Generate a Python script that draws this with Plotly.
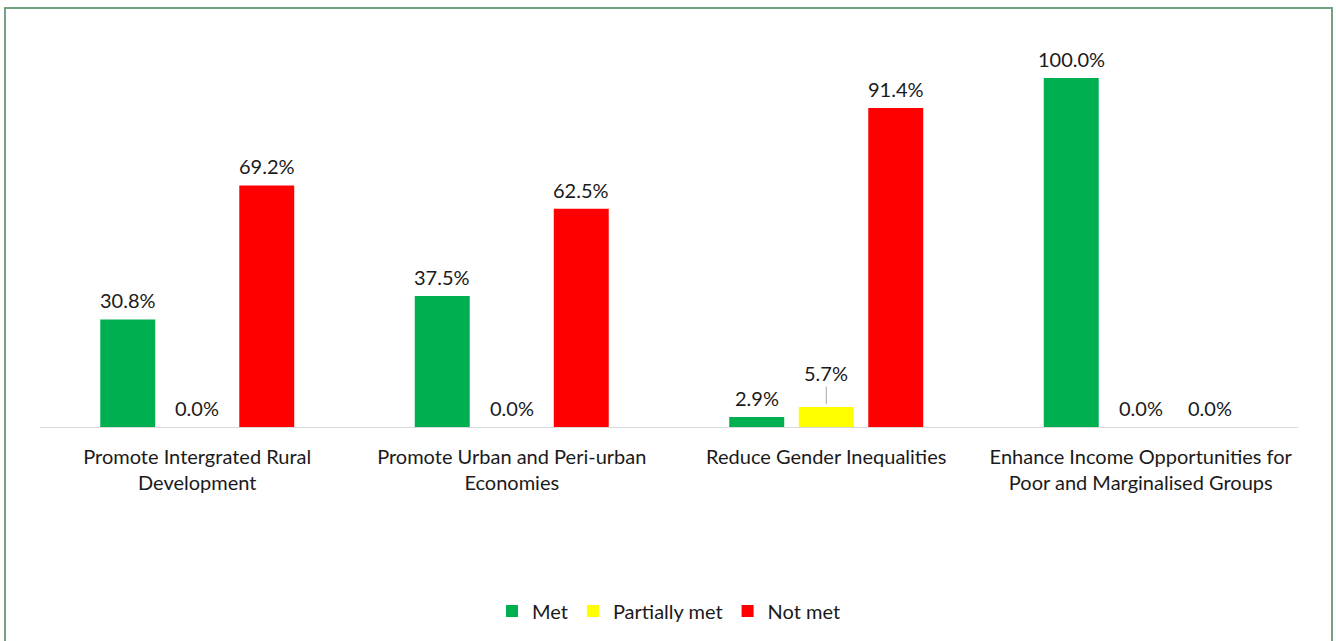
import plotly.graph_objects as go

categories = [
    "Promote Intergrated Rural<br>Development",
    "Promote Urban and Peri-urban<br>Economies",
    "Reduce Gender Inequalities",
    "Enhance Income Opportunities for<br>Poor and Marginalised Groups",
]
met = [30.8, 37.5, 2.9, 100.0]
partially_met = [0.0, 0.0, 5.7, 0.0]
not_met = [69.2, 62.5, 91.4, 0.0]

series_names = ["Met", "Partially met", "Not met"]
colors = ["#00B050", "#FFFF00", "#FF0000"]

FONT = "Lato, 'Open Sans', sans-serif"
FS = 20
TXT = "#1a1a1a"

# Label for partially met in the gender group is drawn as a callout
callout_idx = 2

W, H = 1336, 641
ml, mr, mt, mb = 40, 38, 40, 213
y_top = (H - mb - mt) / 3.5  # 3.5 px per percent
BARGAP, GROUPGAP = 0.337, 0.209

pw = W - ml - mr
ph = H - mt - mb
slot_px = pw / len(categories) * (1 - BARGAP) / len(series_names)

fig = go.Figure()
all_vals = [met, partially_met, not_met]
for si, (name, vals, col) in enumerate(zip(series_names, all_vals, colors)):
    fig.add_trace(go.Bar(
        name=name, x=categories, y=vals, marker=dict(color=col, line=dict(width=0)),
        hoverinfo="skip",
    ))
    for ci, v in enumerate(vals):
        label = f"{v:.1f}%"
        if name == "Partially met" and ci == callout_idx:
            fig.add_annotation(
                x=categories[ci], y=v, xref="x", yref="y",
                text=label, showarrow=True, arrowhead=0,
                arrowwidth=1, arrowcolor="#A6A6A6", ax=0, ay=-34, standoff=3,
                font=dict(family=FONT, size=FS, color=TXT),
            )
            continue
        fig.add_annotation(
            x=categories[ci], y=v, xref="x", yref="y", text=label, showarrow=False,
            xshift=(si - 1) * slot_px, yshift=5, yanchor="bottom",
            font=dict(family=FONT, size=FS, color=TXT),
        )

def px_x(p):
    return (p - ml) / pw
def px_y(p):
    return (H - mb - p) / ph

fig.add_shape(type="rect", xref="paper", yref="paper",
              x0=px_x(5), x1=px_x(1332), y0=px_y(660), y1=px_y(8),
              line=dict(color="#74A27E", width=2), fillcolor="rgba(0,0,0,0)", layer="below")

fig.update_layout(
    width=W, height=H,
    margin=dict(l=ml, r=mr, t=mt, b=mb),
    paper_bgcolor="white", plot_bgcolor="white",
    barmode="group", bargap=BARGAP, bargroupgap=GROUPGAP,
    showlegend=True,
    legend=dict(orientation="h", x=0.5, xanchor="center", y=px_y(611), yanchor="middle",
                font=dict(family=FONT, size=FS, color=TXT), itemsizing="constant"),
    xaxis=dict(showline=True, linecolor="#D9D9D9", linewidth=1, ticks="",
               tickfont=dict(family=FONT, size=FS, color=TXT), showgrid=False,
               ticklabelstandoff=12),
    yaxis=dict(range=[0, y_top], visible=False, showgrid=False, zeroline=False),
    font=dict(family=FONT, size=FS, color=TXT),
)

fig.write_html("out.html", config={"displayModeBar": False},
               post_script="document.body.style.margin='0';document.body.style.overflow='hidden';")
